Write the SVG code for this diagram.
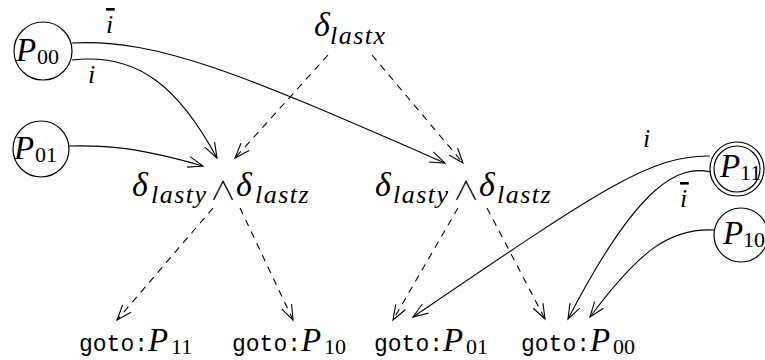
<svg xmlns="http://www.w3.org/2000/svg" width="765" height="360" viewBox="0 0 765 360">
<style>
.m{font-family:"Liberation Serif","DejaVu Serif",serif;font-style:italic;fill:#000}
.d{font-size:34px}
.s{font-size:26px;letter-spacing:1.5px}
.P{font-size:33px}
.n{font-family:"Liberation Serif","DejaVu Serif",serif;font-size:22px;fill:#000}
.w{font-family:"Noto Sans CJK JP","DejaVu Sans",sans-serif;font-weight:300;font-size:26px;fill:#000}
.t{font-family:"Liberation Mono","DejaVu Sans Mono",monospace;font-size:23px;fill:#000}
.c{fill:none;stroke:#000;stroke-width:1.2}
.e{fill:none;stroke:#000;stroke-width:1.1}
.ds{stroke-dasharray:7 6}
.ov{text-decoration:overline}
</style>
<defs>
<marker id="a" markerUnits="userSpaceOnUse" markerWidth="34" markerHeight="34" refX="0" refY="0" viewBox="-17 -17 34 34" orient="auto">
<path d="M-15,-5.5 L0,0 L-15,5.5" fill="none" stroke="#000" stroke-width="1.1"/>
</marker>
</defs>

<g id="P00">
<circle class="c" cx="43" cy="51" r="29"/>
<text class="m P" x="16" y="61">P</text><text class="n" x="37" y="64">00</text>
</g>
<g id="P01">
<circle class="c" cx="41" cy="149" r="28"/>
<text class="m P" x="14" y="159">P</text><text class="n" x="35" y="162">01</text>
</g>
<g id="P11">
<circle class="c" cx="737" cy="169" r="27"/>
<circle class="c" cx="737" cy="169" r="23"/>
<text class="m P" x="720" y="177">P</text><text class="n" x="740" y="180">11</text>
</g>
<g id="P10">
<circle class="c" cx="741" cy="235" r="27"/>
<text class="m P" x="723" y="244">P</text><text class="n" x="743" y="247">10</text>
</g>

<g id="dlastx">
<text class="m d" x="314" y="36">δ</text><text class="m s" x="330" y="44">lastx</text>
</g>
<g id="and1">
<text class="m d" x="132" y="196">δ</text><text class="m s" x="151" y="203">lasty</text>
<text class="w" x="210" y="200">∧</text>
<text class="m d" x="236" y="196">δ</text><text class="m s" x="255" y="203">lastz</text>
</g>
<g id="and2">
<text class="m d" x="375" y="196">δ</text><text class="m s" x="393" y="203">lasty</text>
<text class="w" x="453" y="200">∧</text>
<text class="m d" x="479" y="196">δ</text><text class="m s" x="497" y="203">lastz</text>
</g>

<g id="g11"><text class="t" x="79" y="351">goto:</text><text class="m P" x="148" y="351">P</text><text class="n" x="171" y="354">11</text></g>
<g id="g10"><text class="t" x="232" y="351">goto:</text><text class="m P" x="301" y="351">P</text><text class="n" x="324" y="354">10</text></g>
<g id="g01"><text class="t" x="374" y="351">goto:</text><text class="m P" x="443" y="351">P</text><text class="n" x="466" y="354">01</text></g>
<g id="g00"><text class="t" x="521" y="351">goto:</text><text class="m P" x="590" y="351">P</text><text class="n" x="613" y="354">00</text></g>

<g id="connectors">
<path class="e" d="M72,43 C160,38 250,78 445,163" marker-end="url(#a)"/>
<path class="e" d="M72,60 C140,52 180,90 217,158" marker-end="url(#a)"/>
<path class="e" d="M69,146 C110,145 140,148 203,166" marker-end="url(#a)"/>
<path class="e ds" d="M328,55 L235,158" marker-end="url(#a)"/>
<path class="e ds" d="M372,55 L463,163" marker-end="url(#a)"/>
<path class="e ds" d="M213,208 L117,320" marker-end="url(#a)"/>
<path class="e ds" d="M240,208 L293,320" marker-end="url(#a)"/>
<path class="e ds" d="M458,208 L393,320" marker-end="url(#a)"/>
<path class="e ds" d="M487,208 L545,319" marker-end="url(#a)"/>
<path class="e" d="M710,156 C650,155 600,190 413,317" marker-end="url(#a)"/>
<path class="e" d="M711,172 C680,165 640,180 568,319" marker-end="url(#a)"/>
<path class="e" d="M714,230 C670,228 640,250 590,317" marker-end="url(#a)"/>
<text class="m s ov" x="106" y="33">i</text>
<text class="m s" x="88" y="83">i</text>
<text class="m s" x="643" y="147">i</text>
<text class="m s ov" x="680" y="207">i</text>
</g>
</svg>
